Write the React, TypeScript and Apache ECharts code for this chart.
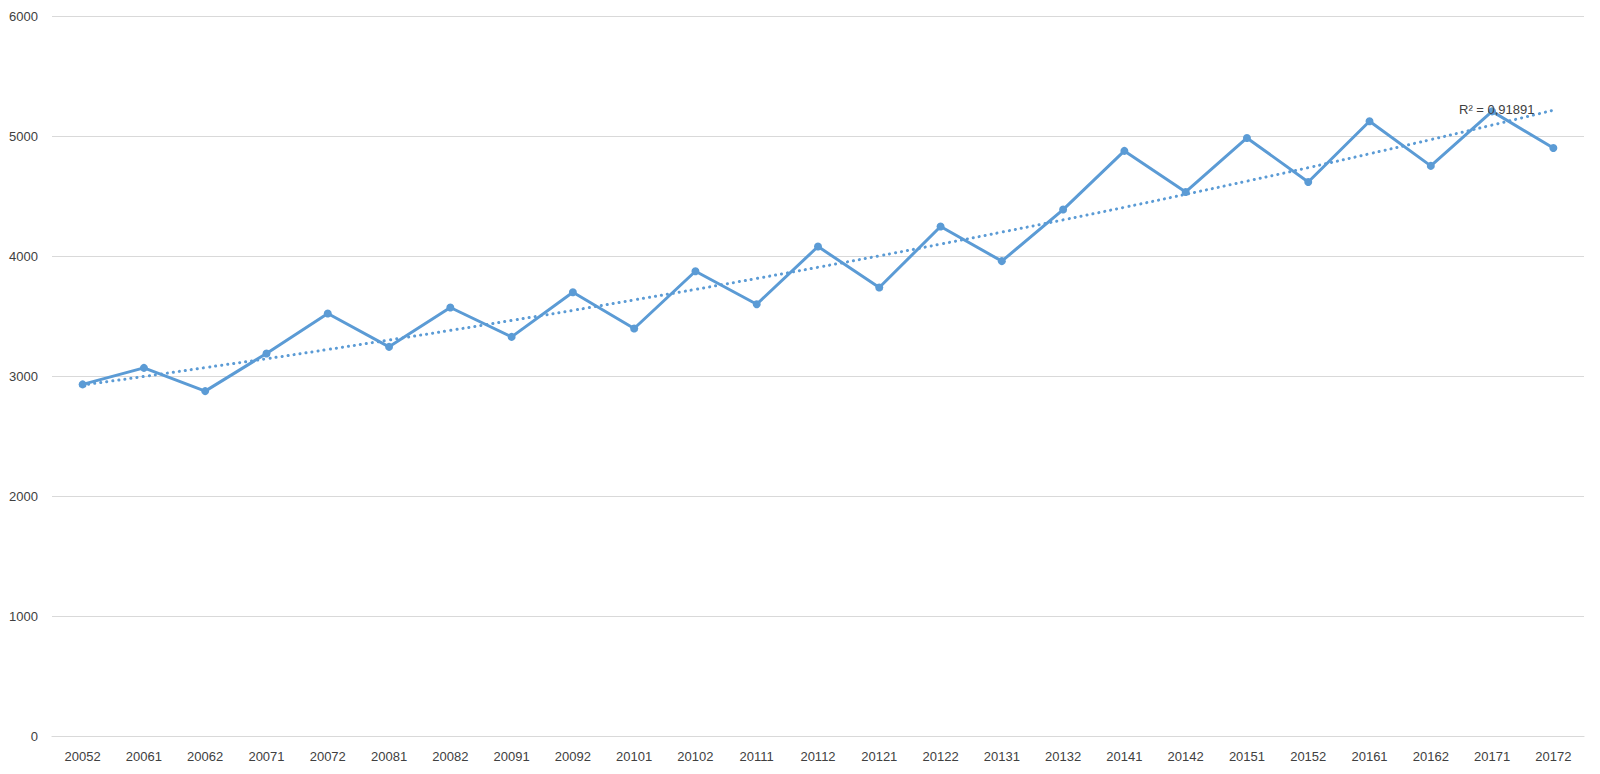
import React, { useEffect, useRef } from "react";
import * as echarts from "echarts";

const categories = [
  "20052", "20061", "20062", "20071", "20072", "20081", "20082", "20091", "20092",
  "20101", "20102", "20111", "20112", "20121", "20122", "20131", "20132",
  "20141", "20142", "20151", "20152", "20161", "20162", "20171", "20172",
];

const values = [
  2930, 3068, 2874, 3188, 3521, 3243, 3571, 3326, 3698,
  3396, 3873, 3598, 4079, 3737, 4246, 3957, 4387,
  4876, 4534, 4984, 4617, 5123, 4751, 5205, 4900,
];

// dotted trendline values
const trend = [
  2925, 2996, 3070, 3144, 3221, 3300, 3380, 3463, 3547,
  3634, 3722, 3813, 3906, 4001, 4099, 4199, 4301,
  4406, 4514, 4624, 4736, 4852, 4970, 5091, 5215,
];

const yTicks = { min: 0, max: 6000, interval: 1000 };
const r2Label = "R² = 0,91891";

const BLUE = "#5B9BD5";
const TEXT = "#404040";
const FONT = "Liberation Sans";

export default function App() {
  const ref = useRef<HTMLDivElement>(null);

  useEffect(() => {
    document.body.style.margin = "0";
    if (!ref.current) return;
    const chart = echarts.init(ref.current, undefined, { renderer: "svg" });
    chart.setOption({
      animation: false,
      backgroundColor: "#ffffff",
      grid: { left: 52, right: 16, top: 16, bottom: 38, containLabel: false },
      xAxis: {
        type: "category",
        data: categories,
        boundaryGap: true,
        axisLine: { show: true, lineStyle: { color: "#D9D9D9", width: 1.2 } },
        axisTick: { show: false },
        axisLabel: {
          interval: 0,
          color: TEXT,
          fontFamily: FONT,
          fontSize: 13,
          margin: 14,
        },
      },
      yAxis: {
        type: "value",
        min: yTicks.min,
        max: yTicks.max,
        interval: yTicks.interval,
        axisLine: { show: false },
        axisTick: { show: false },
        splitLine: { lineStyle: { color: "#D9D9D9", width: 1.2 } },
        axisLabel: {
          color: TEXT,
          fontFamily: FONT,
          fontSize: 13,
          margin: 14,
          formatter: (v: number) => String(v),
        },
      },
      series: [
        {
          type: "line",
          data: values,
          symbol: "circle",
          symbolSize: 8,
          itemStyle: { color: BLUE },
          lineStyle: { color: BLUE, width: 3 },
          z: 2,
        },
        {
          type: "line",
          data: trend,
          symbol: "none",
          smooth: true,
          lineStyle: { color: BLUE, width: 3, type: [0.1, 6], cap: "round" },
          z: 3,
        },
      ],
      graphic: [
        {
          type: "text",
          left: 1459,
          top: 103,
          z: 10,
          style: {
            text: r2Label,
            fill: TEXT,
            font: `13px "${FONT}"`,
          },
        },
      ],
    });
    return () => chart.dispose();
  }, []);

  return <div ref={ref} style={{ width: 1600, height: 774 }} />;
}
